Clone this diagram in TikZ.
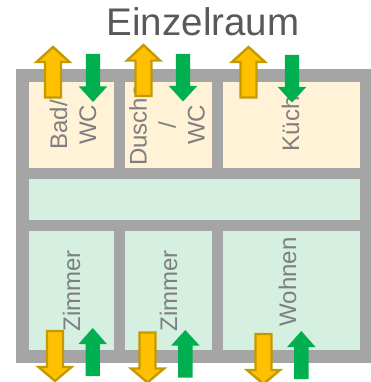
\documentclass[tikz,border=0pt]{standalone}
\usepackage{fontspec}
\setmainfont{Liberation Sans}
\definecolor{wall}{HTML}{A5A5A5}
\definecolor{wet}{HTML}{FFF2D6}
\definecolor{dry}{HTML}{D5F0E0}
\definecolor{orangefill}{HTML}{FFC000}
\definecolor{orangeline}{HTML}{C49A00}
\definecolor{greenfill}{HTML}{00B050}
\definecolor{labelgray}{HTML}{7F7F7F}
\definecolor{titlegray}{HTML}{595959}
\tikzset{
  x=1pt,y=-1pt,
  roomlabel/.style={rotate=90,text=labelgray,inner sep=0pt,align=center,
    font=\fontsize{24}{29}\selectfont},
  wetroom/.style={fill=wet,draw=none},
  dryroom/.style={fill=dry,draw=none},
  warm/.style={fill=orangefill,draw=orangeline,line width=2.4pt,miter limit=10},
  fresh/.style={fill=greenfill,draw=none},
}
% \vent{centre x}{tip y}{head base y}{tail y}{head half width}{shaft half width}{style}
\newcommand{\vent}[7]{%
  \path[#7] (#1-#6,#4) -- (#1-#6,#3) -- (#1-#5,#3) -- (#1,#2) -- (#1+#5,#3) -- (#1+#6,#3) -- (#1+#6,#4) -- cycle;}
\begin{document}
\begin{tikzpicture}
\useasboundingbox (0,0) rectangle (371,382);
\clip (0,0) rectangle (371,382);
\fill[white] (0,0) rectangle (371,382);
\node[text=titlegray,inner sep=0pt,anchor=base,font=\fontsize{38.5}{46}\selectfont] (title) at (203,36) {Einzelraum};
% walls
\fill[wall] (16,69) rectangle (371,363);
% rooms
\path[wetroom] (29,82) rectangle (114,168);
\path[wetroom] (125,82) rectangle (212,168);
\path[wetroom] (222.5,82) rectangle (360,168);
\path[dryroom] (29,179) rectangle (360,220);
\path[dryroom] (29,231) rectangle (114,349.5);
\path[dryroom] (125,231) rectangle (212,349.5);
\path[dryroom] (222.5,231) rectangle (360,349.5);
% labels
\node[roomlabel] (bad) at (73,125) {Bad/\\WC};
\node[roomlabel] (dusche) at (167,125) {Dusche\\/\\WC};
\node[roomlabel,anchor=base] (kueche) at (299,117) {Küche};
\node[roomlabel,anchor=base] (zimmera) at (80,291) {Zimmer};
\node[roomlabel,anchor=base] (zimmerb) at (177,291) {Zimmer};
\node[roomlabel,anchor=base] (wohnen) at (296,282) {Wohnen};
% warm air
\vent{53}{47}{62}{97.5}{16.5}{8}{warm}
\vent{143.5}{45}{60.5}{96}{16.5}{8}{warm}
\vent{248.5}{47}{62}{97.5}{16.5}{8}{warm}
\vent{55}{381}{367}{331}{16.5}{8}{warm}
\vent{147.5}{382.5}{368.5}{332.5}{16.5}{8}{warm}
\vent{263.5}{384}{370}{334}{16.5}{8}{warm}
% fresh air
\vent{93}{102}{86.5}{54}{14.2}{7.2}{fresh}
\vent{183}{101.5}{86}{54}{14.2}{7.2}{fresh}
\vent{292}{102.5}{87}{55}{14.2}{7.2}{fresh}
\vent{92.7}{328}{344}{376}{14.2}{7.2}{fresh}
\vent{185.3}{330}{345.5}{377.5}{14.2}{7.2}{fresh}
\vent{301.3}{331}{347}{379}{14.2}{7.2}{fresh}
\end{tikzpicture}
\end{document}
